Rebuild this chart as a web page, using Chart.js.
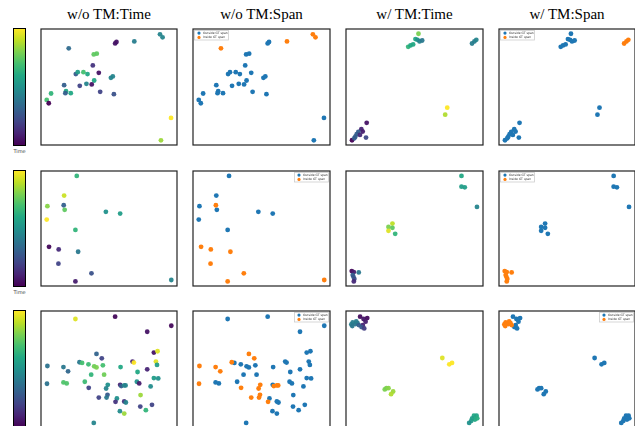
<!DOCTYPE html>
<html>
<head>
<meta charset="utf-8">
<script src="https://cdn.jsdelivr.net/npm/chart.js@4.4.0/dist/chart.umd.min.js"></script>
<style>
html, body { margin: 0; padding: 0; background: #fff; overflow: hidden; width: 635px; height: 426px; }
#fig { position: relative; width: 635px; height: 426px; overflow: hidden; }
.ttl { position: absolute; top: 6px; width: 170px; text-align: center; line-height: 17px;
       font-family: "Liberation Serif", "Times New Roman", serif; font-size: 15px; color: #000; }
canvas { position: absolute; }
.cbar { position: absolute; left: 13px; width: 11px; border: 1px solid #000; }
.cbl { position: absolute; left: 7px; width: 25px; text-align: center; line-height: 6px;
       font-family: "DejaVu Sans", sans-serif; font-size: 5px; color: #444; }
</style>
</head>
<body>
<div id="fig"></div>
<script>
// column titles
const titles = ['w/o TM:Time', 'w/o TM:Span', 'w/ TM:Time', 'w/ TM:Span'];
const spanLabels = ['Outside GT span', 'Inside GT span'];

// row 1 - embedding without TM (x, y in % of the panel, time 0..1, inside GT span)
const r1woX = [20.4, 54.5, 55.5, 68.6, 87.5, 89.4, 38.8, 41.0, 38.1, 42.5, 25.6, 27.0, 31.2, 34.2, 39.1, 33.4, 37.3, 28.5, 17.0, 18.4, 17.9, 21.9, 7.4, 4.2, 5.7, 51.4, 52.8, 43.5, 53.6, 95.6, 88.2];
const r1woY = [83.3, 87.6, 88.8, 89.3, 95.4, 92.8, 78.1, 78.7, 68.6, 62.2, 61.1, 62.8, 62.8, 61.1, 55.6, 52.7, 52.2, 51.0, 51.6, 46.4, 44.7, 44.7, 44.4, 38.9, 36.0, 57.9, 59.1, 45.8, 43.8, 23.3, 4.0];
const r1woT = [.35, .05, .05, .42, .45, .45, .75, .75, .15, .05, .28, .55, .7, .6, .6, .45, .05, .2, .3, .6, .3, .6, .65, .7, 0, .45, .45, .2, .25, 1, .85];
const r1woIn = [1, 0, 0, 1, 1, 1, 0, 0, 0, 0, 0, 0, 0, 0, 0, 0, 0, 0, 0, 0, 0, 0, 0, 0, 0, 0, 0, 0, 0, 0, 0];
// row 1 - embedding with TM
const r1wX = [52.9, 50.7, 52.2, 53.7, 55.6, 45.4, 47.1, 49.0, 92.0, 93.7, 95.1, 73.9, 72.4, 15.1, 11.2, 12.2, 9.0, 7.8, 6.8, 10.2, 14.6, 4.4, 6.1];
const r1wY = [95.9, 91.3, 90.7, 89.3, 90.1, 84.6, 85.8, 86.7, 87.5, 89.3, 90.7, 32.2, 26.1, 19.1, 13.6, 11.6, 11.3, 9.3, 7.2, 8.7, 6.4, 4.1, 5.8];
const r1wT = [.8, .6, .5, .45, .4, .65, .6, .6, .42, .42, .45, 1, .88, .05, .1, .08, .3, .3, .3, .12, .22, 0, .3];
const r1wIn = [0, 0, 0, 0, 0, 0, 0, 0, 1, 1, 1, 0, 0, 0, 0, 0, 0, 0, 0, 0, 0, 0, 0];

// row 2
const r2woX = [26.3, 17.0, 16.7, 4.7, 17.4, 4.2, 47.7, 58.2, 25.3, 5.9, 13.0, 27.3, 12.8, 37.1, 25.3, 95.8];
const r2woY = [95.7, 78.6, 70.2, 69.4, 66.2, 57.8, 64.5, 63.0, 48.8, 34.1, 31.8, 29.8, 19.4, 11.0, 4.0, 5.2];
const r2woT = [.65, .92, .3, .82, .75, 1, .5, .55, .65, .02, .12, .4, .2, .25, .08, .45];
const r2woIn = [0, 0, 1, 0, 0, 0, 0, 0, 0, 1, 1, 1, 1, 1, 1, 1];
const r2wX = [84.3, 84.3, 86.7, 95.6, 33.9, 31.0, 33.9, 31.0, 35.9, 4.2, 5.7, 9.3, 4.9, 5.4, 6.1, 5.7];
const r2wY = [95.7, 86.4, 85.8, 68.8, 54.3, 51.4, 50.6, 48.0, 45.4, 13.0, 12.1, 11.8, 9.5, 8.1, 6.1, 4.0];
const r2wT = [.6, .55, .55, .45, .9, .8, .75, .95, .65, .02, .08, .4, .3, .28, .25, .12];
const r2wIn = [0, 0, 0, 0, 0, 0, 0, 0, 0, 1, 1, 1, 1, 1, 1, 1];

// row 3
const r3woX = [25.3, 54.5, 95.8, 78.1, 83.0, 85.7, 84.5, 85.3, 40.8, 44.7, 67.3, 68.3, 4.7, 16.5, 19.9, 28.3, 30.2, 34.9, 39.1, 40.8, 45.5, 58.5, 78.1, 71.0, 36.9, 46.4, 83.0, 86.2, 4.4, 16.5, 18.9, 32.2, 35.1, 49.1, 47.9, 58.2, 59.0, 61.2, 62.2, 70.5, 72.2, 80.6, 73.2, 42.5, 48.9, 48.2, 55.8, 54.8, 61.2, 62.4, 73.0, 81.6, 77.1, 58.0, 61.2, 38.8];
const r3woY = [93.1, 95.1, 87.3, 82.1, 64.2, 65.3, 56.4, 53.5, 63.0, 59.2, 56.4, 55.5, 52.6, 51.7, 48.0, 55.8, 55.2, 54.0, 52.3, 51.4, 53.2, 51.7, 49.7, 47.4, 45.1, 45.1, 42.2, 41.9, 37.3, 38.4, 37.6, 39.0, 33.8, 36.4, 33.2, 36.4, 35.3, 35.8, 35.8, 39.0, 37.6, 35.0, 27.5, 25.4, 27.7, 25.4, 24.6, 21.7, 22.0, 21.1, 17.6, 19.1, 14.5, 13.6, 11.6, 3.5];
const r3woT = [.95, .02, .02, .05, .05, .95, .95, .55, .32, .2, .1, 1, .38, .4, .33, .4, .7, .68, .78, .8, .7, .6, .1, .6, .65, .78, .55, .5, .38, .72, .72, .68, .2, .5, .45, .1, .3, .45, .45, .5, .08, .48, .85, .2, .28, .4, .5, .15, .15, .45, .2, .2, .65, .48, .85, .45];
const r3woIn = [0, 0, 0, 0, 0, 0, 0, 0, 1, 1, 0, 0, 1, 1, 1, 1, 0, 0, 0, 0, 0, 0, 0, 0, 0, 0, 0, 0, 1, 0, 0, 0, 1, 1, 1, 0, 1, 1, 1, 0, 0, 0, 0, 1, 1, 1, 0, 1, 0, 0, 0, 0, 0, 0, 0, 0];
const r3wX = [10.3, 12.8, 15.5, 14.3, 12.3, 4.9, 3.9, 6.9, 8.4, 9.3, 7.5, 4.6, 11.3, 13.3, 70.3, 75.4, 77.4, 28.3, 29.5, 31.0, 34.4, 32.9, 93.4, 95.3, 92.1, 94.1, 95.8, 91.4, 89.9];
const r3wY = [95.1, 93.1, 93.9, 90.8, 87.9, 90.2, 88.4, 88.7, 89.6, 87.9, 91.0, 87.0, 86.1, 85.0, 59.5, 54.0, 55.2, 32.4, 33.5, 33.5, 30.6, 28.3, 9.8, 9.8, 7.5, 6.4, 7.5, 5.2, 3.5];
const r3wT = [.03, .06, .03, .08, .1, .42, .42, .4, .38, .3, .42, .4, .28, .18, .95, 1, 1, .8, .8, .82, .85, .88, .6, .58, .55, .6, .62, .55, .5];
const r3wIn = [0, 0, 0, 0, 0, 1, 1, 1, 1, 1, 1, 1, 0, 0, 0, 0, 0, 0, 0, 0, 0, 0, 0, 0, 0, 0, 0, 0, 0];

const BLUE = '#1f77b4';
const ORANGE = '#ff7f0e';
const VIR = ['#440154', '#482475', '#414487', '#355f8d', '#2a788e', '#21918c', '#22a884', '#44bf70', '#7ad151', '#bddf26', '#fde725'];

function hexRgb(h) {
    return [parseInt(h.slice(1, 3), 16), parseInt(h.slice(3, 5), 16), parseInt(h.slice(5, 7), 16)];
}
function viridis(t) {
    t = Math.max(0, Math.min(1, t));
    const s = t * 10, i = Math.min(9, Math.floor(s)), f = s - i;
    const a = hexRgb(VIR[i]), b = hexRgb(VIR[i + 1]);
    const c = a.map((v, k) => Math.round(v + (b[k] - v) * f));
    return 'rgba(' + c.join(',') + ',0.95)';
}

// panel boxes in page pixels
const cols = [{x: 41, w: 136}, {x: 193, w: 137}, {x: 346, w: 137}, {x: 499, w: 136}];
const rows = [{y: 29, h: 116}, {y: 171, h: 115}, {y: 311, h: 116}];
const legendCorner = [['left', 'left'], ['right', 'left'], ['right', 'right']];
const PAD = 6;
const fig = document.getElementById('fig');

// frame + tiny legend
const framePlugin = {
    id: 'frame',
    afterDatasetsDraw(chart) {
        const a = chart.chartArea, ctx = chart.ctx;
        ctx.save();
        ctx.strokeStyle = '#222';
        ctx.lineWidth = 1.2;
        ctx.strokeRect(a.left, a.top, a.right - a.left, a.bottom - a.top);
        ctx.restore();
    },
    afterDraw(chart) {
        const corner = chart.options.plugins.frame.legend;
        if (!corner) return;
        const a = chart.chartArea, ctx = chart.ctx;
        const w = 34, h = 9.5;
        const x = corner === 'left' ? a.left + 1.5 : a.right - w - 1.5;
        const y = a.top + 1.5;
        ctx.save();
        ctx.fillStyle = 'rgba(255,255,255,0.8)';
        ctx.strokeStyle = '#cccccc';
        ctx.lineWidth = 0.8;
        ctx.fillRect(x, y, w, h);
        ctx.strokeRect(x, y, w, h);
        ctx.font = '3px "DejaVu Sans", sans-serif';
        ctx.textBaseline = 'middle';
        [BLUE, ORANGE].forEach((col, i) => {
            const cy = y + 2.6 + i * 4.3;
            ctx.fillStyle = col;
            ctx.beginPath();
            ctx.arc(x + 4.5, cy, 1.6, 0, Math.PI * 2);
            ctx.fill();
            ctx.fillStyle = '#333';
            ctx.fillText(spanLabels[i], x + 8.5, cy);
        });
        ctx.restore();
    }
};

function makePanel(ci, ri, kind, xs, ys, ts, ins, corner) {
    const c = cols[ci], r = rows[ri];
    const cv = document.createElement('canvas');
    cv.width = c.w + 2 * PAD;
    cv.height = r.h + 2 * PAD;
    cv.style.left = (c.x - PAD) + 'px';
    cv.style.top = (r.y - PAD) + 'px';
    fig.appendChild(cv);

    const pts = xs.map((x, i) => ({x: x, y: ys[i]}));
    let datasets;
    if (kind === 'time') {
        datasets = [{
            data: pts,
            pointBackgroundColor: ts.map(viridis),
            pointBorderWidth: 0,
            pointRadius: 2.4,
            clip: false
        }];
    } else {
        datasets = [
            {label: spanLabels[1], data: pts.filter((p, i) => ins[i]), pointBackgroundColor: ORANGE,
             pointBorderWidth: 0, pointRadius: 2.4, clip: false},
            {label: spanLabels[0], data: pts.filter((p, i) => !ins[i]), pointBackgroundColor: BLUE,
             pointBorderWidth: 0, pointRadius: 2.4, clip: false}
        ];
    }

    new Chart(cv, {
        type: 'scatter',
        data: {datasets: datasets},
        options: {
            responsive: false,
            animation: false,
            events: [],
            layout: {padding: PAD},
            scales: {
                x: {type: 'linear', min: 0, max: 100, display: false},
                y: {type: 'linear', min: 0, max: 100, display: false}
            },
            plugins: {
                legend: {display: false},
                tooltip: {enabled: false},
                frame: {legend: corner}
            }
        },
        plugins: [framePlugin]
    });
}

// titles
titles.forEach((t, i) => {
    const d = document.createElement('div');
    d.className = 'ttl';
    d.textContent = t;
    d.style.left = (cols[i].x + cols[i].w / 2 - 85) + 'px';
    fig.appendChild(d);
});

// colorbars
rows.forEach((r, i) => {
    const b = document.createElement('div');
    b.className = 'cbar';
    b.style.top = (r.y - 1) + 'px';
    b.style.height = r.h + 'px';
    b.style.background = 'linear-gradient(to top,' + VIR.join(',') + ')';
    fig.appendChild(b);
    const l = document.createElement('div');
    l.className = 'cbl';
    l.textContent = 'Time';
    l.style.top = (r.y + r.h + 2.5) + 'px';
    fig.appendChild(l);
});

const rowData = [
    [r1woX, r1woY, r1woT, r1woIn, r1wX, r1wY, r1wT, r1wIn],
    [r2woX, r2woY, r2woT, r2woIn, r2wX, r2wY, r2wT, r2wIn],
    [r3woX, r3woY, r3woT, r3woIn, r3wX, r3wY, r3wT, r3wIn]
];
rowData.forEach((d, ri) => {
    makePanel(0, ri, 'time', d[0], d[1], d[2], d[3], null);
    makePanel(1, ri, 'span', d[0], d[1], d[2], d[3], legendCorner[ri][0]);
    makePanel(2, ri, 'time', d[4], d[5], d[6], d[7], null);
    makePanel(3, ri, 'span', d[4], d[5], d[6], d[7], legendCorner[ri][1]);
});
</script>
</body>
</html>
